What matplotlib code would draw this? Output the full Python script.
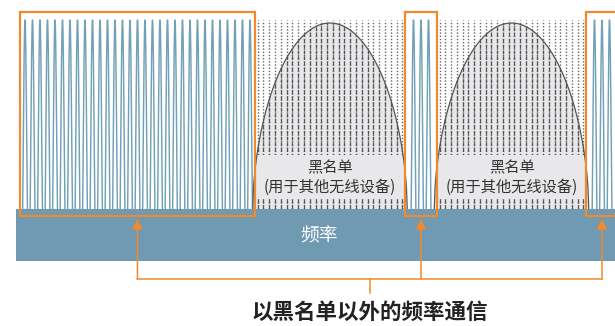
import numpy as np
import matplotlib
matplotlib.use('Agg')
import matplotlib.pyplot as plt
from matplotlib.patches import Rectangle, Polygon

plt.rcParams['font.family'] = ['Noto Sans CJK SC', 'DejaVu Sans']

# frequency axis in channel units
seg_kind = ['可用', '黑名单', '可用', '黑名单', '可用']
seg_start = [0.0, 31.33, 51.33, 55.6, 75.47]
seg_end = [31.33, 51.33, 55.6, 75.47, 79.73]
peaks_per_allowed = [31, 3, 3]
lines_per_blacklist = [26, 26]

blacklist_title = '黑名单'
blacklist_note = '(用于其他无线设备)'
band_label = '频率'
title = '以黑名单以外的频率通信'

wave_peak = 189
wave_trough = -90
arch_peak = 186

blue = '#6f9ab1'
wave_blue = '#72a0b7'
orange = '#f08a2e'
grey_fill = '#e8e8ea'

fig = plt.figure(figsize=(6.15, 3.26), dpi=100)
ax = fig.add_axes([0, 0, 1, 1])
ax.set_xlim(-20 / 7.5, 595 / 7.5)
ax.set_ylim(-117, 209)
ax.axis('off')

allowed = [i for i, k in enumerate(seg_kind) if k == '可用']
blocked = [i for i, k in enumerate(seg_kind) if k == '黑名单']

# hopping carriers in allowed segments
mid = (wave_peak + wave_trough) / 2
amp = (wave_peak - wave_trough) / 2
for i, n in zip(allowed, peaks_per_allowed):
    c = (seg_start[i] + seg_end[i]) / 2
    p0 = c - (n - 1) / 2
    x = np.linspace(p0 - 0.5, p0 + n - 0.5, n * 60)
    y = mid + amp * np.cos(2 * np.pi * (x - p0))
    ax.plot(x, np.maximum(y, -30), color=wave_blue, lw=1.05, zorder=2)

# blacklisted segments
for i, n in zip(blocked, lines_per_blacklist):
    c = (seg_start[i] + seg_end[i]) / 2
    half = 10.3
    u = np.linspace(-1, 1, 200)
    ax_x = c + half * u
    ax_y = arch_peak * (1 - u ** 2) ** 0.55
    arch = Polygon(np.column_stack([ax_x, ax_y]), closed=True,
                   facecolor=grey_fill, edgecolor='none', zorder=1)
    ax.add_patch(arch)
    ax.plot(ax_x, ax_y, color='#555555', lw=0.9, zorder=4)
    xs = np.linspace(seg_start[i] + 0.35, seg_end[i] - 0.35, n)
    for xv in xs:
        ax.plot([xv, xv], [0, wave_peak], color='#666666', lw=1.0,
                linestyle=(0, (1.0, 1.3)), zorder=2)
        ln, = ax.plot([xv, xv], [0, wave_peak], color='#555555', lw=0.9,
                      linestyle=(0, (3.0, 1.6)), zorder=3)
        ln.set_clip_path(arch)
    ax.add_patch(Rectangle((seg_start[i] + 0.1, 10), seg_end[i] - seg_start[i] - 0.2, 44,
                           facecolor=grey_fill, edgecolor='none', zorder=3.5))
    ax.text(c, 41, blacklist_title, ha='center', va='center', fontsize=11,
            color='#333333', zorder=5)
    ax.text(c, 22, blacklist_note, ha='center', va='center', fontsize=11,
            color='#333333', zorder=5)

# frequency band
ax.add_patch(Rectangle((-0.53, -52), 90, 52, facecolor=blue, edgecolor='none', zorder=5))
ax.text(39.87, -27, band_label, ha='center', va='center', fontsize=13.5,
        fontweight='medium', color='white', zorder=6)

# boxes and arrows
centers = []
for i in allowed:
    ax.add_patch(Rectangle((seg_start[i], -7), seg_end[i] - seg_start[i], 204,
                           facecolor='none', edgecolor=orange, lw=1.6, zorder=7))
    cx = (seg_start[i] + seg_end[i]) / 2
    centers.append(cx)
    ax.annotate('', xy=(cx, -10), xytext=(cx, -70),
                arrowprops=dict(arrowstyle='-|>,head_length=0.6,head_width=0.3',
                                color=orange, lw=1.1, shrinkA=0, shrinkB=0),
                zorder=7)
ax.plot([centers[0], centers[-1]], [-70, -70], color=orange, lw=1.1, zorder=7)
mx = (centers[0] + centers[-1]) / 2
ax.plot([mx, mx], [-70, -84], color=orange, lw=1.1, zorder=7)

ax.text(mx, -103, title, ha='center', va='center', fontsize=15.5,
        fontweight='bold', color='#222222')

fig.savefig('out.png', dpi=100)
